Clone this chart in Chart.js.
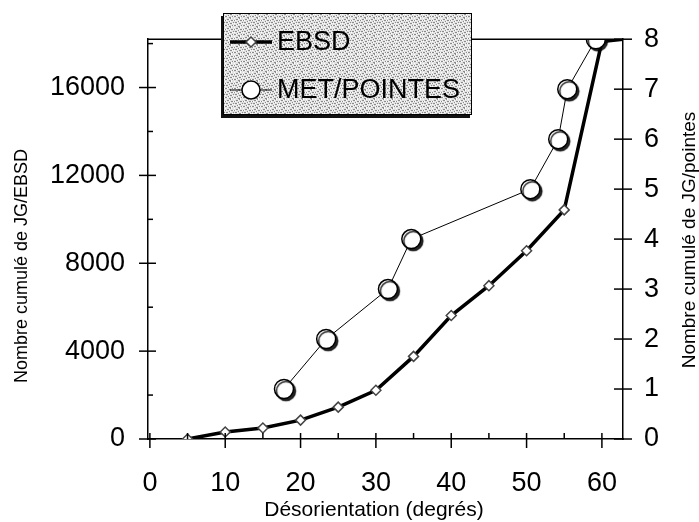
<!DOCTYPE html>
<html>
<head>
<meta charset="utf-8">
<script src="https://cdn.jsdelivr.net/npm/chart.js@4.4.1/dist/chart.umd.min.js"></script>
<style>
  body { margin: 0; background: #fff; }
  #wrap { width: 699px; height: 522px; position: relative; }
</style>
</head>
<body>
<div id="wrap"><canvas id="chart"></canvas></div>
<script>
// EBSD : nombre cumulé de joints (axe gauche)
const ebsdAngles = [5, 10, 15, 20, 25, 30, 35, 40, 45, 50, 55, 60, 62.8];
const ebsdCounts = [0, 320, 500, 860, 1450, 2220, 3760, 5620, 6980, 8570, 10430, 18100, 18200];

// MET / pointés : nombre cumulé de joints (axe droit)
const metAngles = [17.8, 23.4, 31.6, 34.7, 50.5, 54.2, 55.4, 59.2];
const metCounts = [1, 2, 3, 4, 5, 6, 7, 8];

// ticks
const xTicks = [0, 10, 20, 30, 40, 50, 60];
const xMinorTicks = [5, 15, 25, 35, 45, 55];
const leftTicks = [0, 4000, 8000, 12000, 16000];
const leftMinorTicks = [2000, 6000, 10000, 14000, 18000];
const rightTicks = [0, 1, 2, 3, 4, 5, 6, 7, 8];

// titres
const xTitle = 'Désorientation (degrés)';
const leftTitle = 'Nombre cumulé de JG/EBSD';
const rightTitle = 'Nombre cumulé de JG/pointes';

const FONT = '"Liberation Sans", Arial, sans-serif';
Chart.defaults.font.family = FONT;
Chart.defaults.color = '#000';

const toPoints = (xs, ys) => xs.map((x, i) => ({ x: x, y: ys[i] }));

// ticks that cross the axis lines + top frame line
const crossTicks = {
    id: 'crossTicks',
    afterDraw(chart) {
        const { ctx, chartArea: a, scales } = chart;
        const seg = (x1, y1, x2, y2) => {
            ctx.beginPath();
            ctx.moveTo(x1, y1);
            ctx.lineTo(x2, y2);
            ctx.stroke();
        };
        ctx.save();
        ctx.strokeStyle = '#000';
        ctx.lineWidth = 1.5;
        seg(a.left, a.top, a.right, a.top);
        xTicks.forEach(v => {
            const px = scales.x.getPixelForValue(v);
            seg(px, a.bottom - 6, px, a.bottom + 9);
        });
        xMinorTicks.forEach(v => {
            const px = scales.x.getPixelForValue(v);
            seg(px, a.bottom - 6, px, a.bottom);
        });
        leftTicks.forEach(v => {
            const py = scales.y.getPixelForValue(v);
            seg(a.left - 9, py, a.left + 8, py);
        });
        leftMinorTicks.forEach(v => {
            const py = scales.y.getPixelForValue(v);
            seg(a.left, py, a.left + 5, py);
        });
        rightTicks.forEach(v => {
            const py = scales.y2.getPixelForValue(v);
            seg(a.right - 9, py, a.right + 9, py);
        });
        ctx.restore();
    }
};

// axis titles (both vertical ones read bottom to top)
const axisTitles = {
    id: 'axisTitles',
    afterDraw(chart) {
        const ctx = chart.ctx;
        ctx.save();
        ctx.fillStyle = '#000';
        ctx.textAlign = 'center';
        ctx.textBaseline = 'middle';
        ctx.font = '21px ' + FONT;
        ctx.fillText(xTitle, 374, 510);

        ctx.font = '18px ' + FONT;
        ctx.translate(22, 266);
        ctx.rotate(-Math.PI / 2);
        ctx.fillText(leftTitle, 0, 0);
        ctx.restore();

        ctx.save();
        ctx.fillStyle = '#000';
        ctx.textAlign = 'center';
        ctx.textBaseline = 'middle';
        ctx.font = '19px ' + FONT;
        ctx.translate(690, 240);
        ctx.rotate(-Math.PI / 2);
        ctx.fillText(rightTitle, 0, 0);
        ctx.restore();
    }
};

// shadow under the MET circles
const circleShadow = {
    id: 'circleShadow',
    beforeDatasetDraw(chart, args) {
        if (args.meta._dataset.id !== 'metPoints') return;
        const ctx = chart.ctx;
        ctx.save();
        ctx.shadowColor = 'rgba(0,0,0,0.85)';
        ctx.shadowOffsetX = 2;
        ctx.shadowOffsetY = 2;
        ctx.shadowBlur = 1;
    },
    afterDatasetDraw(chart, args) {
        if (args.meta._dataset.id !== 'metPoints') return;
        chart.ctx.restore();
    }
};

// stippled legend box
function stipple(ctx) {
    const c = document.createElement('canvas');
    c.width = 9; c.height = 9;
    const g = c.getContext('2d');
    g.fillStyle = '#e2e2e2';
    g.fillRect(0, 0, 9, 9);
    for (let i = 0; i < 81; i++) {
        const k = (i * 37 + 11) % 13;
        if (k < 3) { g.fillStyle = '#8a8a8a'; g.fillRect(i % 9, Math.floor(i / 9), 1, 1); }
        else if (k > 10) { g.fillStyle = '#ffffff'; g.fillRect(i % 9, Math.floor(i / 9), 1, 1); }
    }
    return ctx.createPattern(c, 'repeat');
}

const boxLegend = {
    id: 'boxLegend',
    afterDraw(chart) {
        const ctx = chart.ctx;
        const bx = 223, by = 13, bw = 249, bh = 102;
        ctx.save();
        ctx.fillStyle = '#111';
        ctx.fillRect(bx - 2, by + 3, bw, bh);
        ctx.fillStyle = stipple(ctx);
        ctx.fillRect(bx, by, bw, bh);
        ctx.strokeStyle = '#000';
        ctx.lineWidth = 1;
        ctx.strokeRect(bx + 0.5, by + 0.5, bw - 1, bh - 1);

        // EBSD entry
        ctx.strokeStyle = '#000';
        ctx.lineWidth = 3.5;
        ctx.beginPath(); ctx.moveTo(230, 42); ctx.lineTo(272, 42); ctx.stroke();
        ctx.fillStyle = '#fff';
        ctx.strokeStyle = '#444';
        ctx.lineWidth = 1.5;
        ctx.beginPath();
        ctx.moveTo(251, 37); ctx.lineTo(256, 42); ctx.lineTo(251, 47); ctx.lineTo(246, 42);
        ctx.closePath(); ctx.fill(); ctx.stroke();

        // MET entry
        ctx.strokeStyle = '#000';
        ctx.lineWidth = 1;
        ctx.beginPath(); ctx.moveTo(230, 90); ctx.lineTo(272, 90); ctx.stroke();
        ctx.lineWidth = 1.5;
        ctx.beginPath(); ctx.arc(251, 90, 9, 0, Math.PI * 2);
        ctx.fill(); ctx.stroke();

        ctx.fillStyle = '#000';
        ctx.font = '27px ' + FONT;
        ctx.textBaseline = 'middle';
        ctx.fillText('EBSD', 277, 43);
        ctx.fillText('MET/POINTES', 277, 91);
        ctx.restore();
    }
};

new Chart(document.getElementById('chart'), {
    type: 'line',
    data: {
        datasets: [
            {
                id: 'metPoints',
                label: 'MET/POINTES',
                data: toPoints(metAngles, metCounts),
                yAxisID: 'y2',
                showLine: false,
                pointStyle: 'circle',
                pointRadius: 9.5,
                pointBorderWidth: 1.5,
                pointBorderColor: '#000',
                pointBackgroundColor: '#fff',
                order: 0,
            },
            {
                id: 'ebsd',
                label: 'EBSD',
                data: toPoints(ebsdAngles, ebsdCounts),
                yAxisID: 'y',
                borderColor: '#000',
                borderWidth: 3.5,
                pointStyle: 'rectRot',
                pointRadius: ctx => (ctx.dataIndex === ebsdAngles.length - 1 ? 0 : 5),
                pointBorderWidth: 1.5,
                pointBorderColor: '#444',
                pointBackgroundColor: '#fff',
                tension: 0,
                order: 1,
            },
            {
                id: 'metLine',
                label: 'MET/POINTES',
                data: toPoints(metAngles, metCounts),
                yAxisID: 'y2',
                borderColor: '#000',
                borderWidth: 1,
                pointRadius: 0,
                tension: 0,
                order: 2,
            },
        ],
    },
    options: {
        responsive: true,
        maintainAspectRatio: false,
        animation: false,
        layout: { padding: { top: 37, left: 0, right: 0, bottom: 0 } },
        plugins: {
            legend: { display: false },
            tooltip: { enabled: false },
        },
        scales: {
            x: {
                type: 'linear',
                min: -0.25,
                max: 62.8,
                afterBuildTicks: s => { s.ticks = xTicks.map(v => ({ value: v })); },
                afterFit: s => { s.height = 83; },
                grid: { display: false, drawTicks: false },
                border: { display: true, color: '#000', width: 1.5 },
                ticks: { font: { size: 27 }, padding: 28, maxRotation: 0 },
                title: { display: false },
            },
            y: {
                position: 'left',
                min: 0,
                max: 18200,
                afterBuildTicks: s => { s.ticks = leftTicks.map(v => ({ value: v })); },
                afterFit: s => { s.width = 148; },
                grid: { display: false, drawTicks: false },
                border: { display: true, color: '#000', width: 1.5 },
                ticks: { font: { size: 27 }, padding: 23, callback: v => String(v) },
                title: { display: false },
            },
            y2: {
                position: 'right',
                min: 0,
                max: 8,
                afterBuildTicks: s => { s.ticks = rightTicks.map(v => ({ value: v })); },
                afterFit: s => { s.width = 76; },
                grid: { display: false, drawTicks: false },
                border: { display: true, color: '#000', width: 1.5 },
                ticks: { font: { size: 27 }, padding: 21, callback: v => String(v) },
                title: { display: false },
            },
        },
    },
    plugins: [crossTicks, axisTitles, circleShadow, boxLegend],
});
</script>
</body>
</html>
